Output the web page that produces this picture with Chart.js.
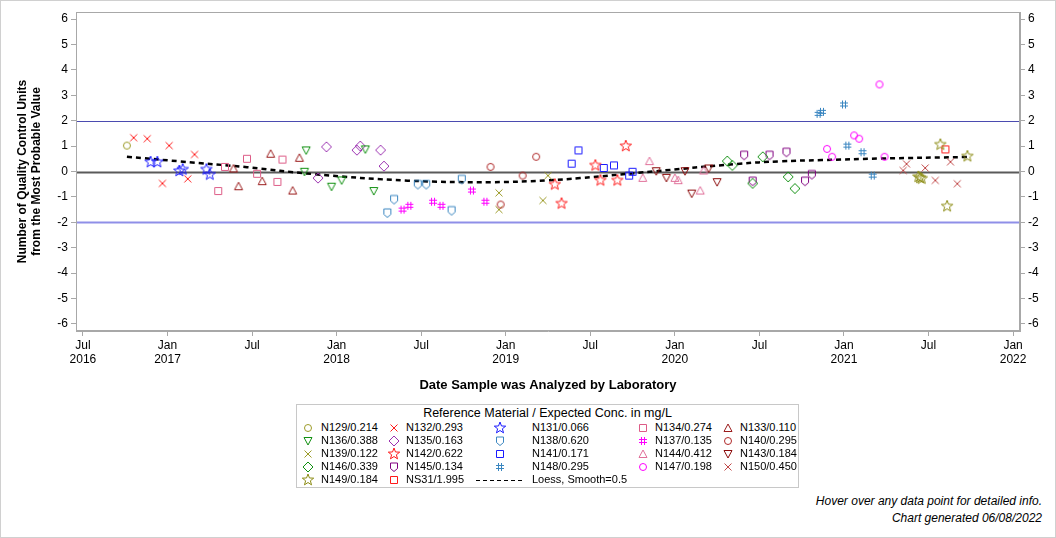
<!DOCTYPE html>
<html>
<head>
<meta charset="utf-8">
<script src="https://cdn.jsdelivr.net/npm/chart.js@4.4.1/dist/chart.umd.min.js"></script>
<style>
  body { margin: 0; background: #fff; font-family: "Liberation Sans", Arial, sans-serif; }
  #frame { position: relative; width: 1054px; height: 536px; border: 1px solid #d0d0d0; overflow: hidden; }
  #chartBox { position: absolute; left: 0; top: 0; }
  #legend { position: absolute; left: 295px; top: 403px; width: 501px; height: 82px; border: 1px solid #c8c8c8; }
  #legend .ttl { position: absolute; left: 0; width: 100%; top: 1px; text-align: center; font-size: 12.5px; }
  #legend .it { position: absolute; font-size: 11px; line-height: 13px; white-space: nowrap; }
  #legend canvas { position: absolute; }
  .foot { position: absolute; right: 13px; font-size: 12px; font-style: italic; }
</style>
</head>
<body>
<div id="frame">
  <canvas id="chartBox" width="1054" height="396"></canvas>
  <div id="legend"><div class="ttl">Reference Material / Expected Conc. in mg/L</div></div>
  <div class="foot" style="top:493px">Hover over any data point for detailed info.</div>
  <div class="foot" style="top:510px">Chart generated 06/08/2022</div>
</div>
<script>
// x values are decimal years, y values are QC units from the most probable value
const n129 = [[2016.76, 1.02]];
const n132 = [[2016.80, 1.33], [2016.88, 1.29], [2016.97, -0.47], [2017.01, 1.02], [2017.12, -0.29], [2017.16, 0.67]];
const n131 = [[2016.90, 0.37], [2016.94, 0.37], [2017.07, 0.02], [2017.09, 0.08], [2017.23, 0.08], [2017.25, -0.12]];
const n134 = [[2017.30, -0.77], [2017.34, 0.18], [2017.47, 0.50], [2017.53, -0.09], [2017.65, -0.41], [2017.68, 0.47]];
const n133 = [[2017.39, 0.12], [2017.42, -0.58], [2017.56, -0.38], [2017.61, 0.70], [2017.74, -0.75], [2017.78, 0.54]];
const n136 = [[2017.81, -0.01], [2017.82, 0.83], [2017.97, -0.60], [2018.03, -0.35], [2018.17, 0.87], [2018.22, -0.77]];
const n135 = [[2017.89, -0.26], [2017.94, 0.97], [2018.12, 0.84], [2018.14, 1.00], [2018.26, 0.84], [2018.28, 0.21]];
const n138 = [[2018.30, -1.63], [2018.34, -1.10], [2018.48, -0.51], [2018.53, -0.51], [2018.68, -1.54], [2018.74, -0.31]];
const n137 = [[2018.39, -1.50], [2018.43, -1.35], [2018.57, -1.19], [2018.62, -1.35], [2018.80, -0.75], [2018.88, -1.19]];
const n140 = [[2018.91, 0.18], [2018.97, -1.30], [2019.10, -0.16], [2019.18, 0.58]];
const n139 = [[2018.96, -1.50], [2018.96, -0.84], [2019.22, -1.14], [2019.25, -0.16]];
const n142 = [[2019.29, -0.51], [2019.33, -1.26], [2019.53, 0.24], [2019.56, -0.35], [2019.66, -0.35], [2019.71, 1.00]];
const n141 = [[2019.39, 0.31], [2019.43, 0.83], [2019.58, 0.14], [2019.64, 0.24], [2019.73, -0.16], [2019.75, -0.01]];
const n144 = [[2019.81, -0.25], [2019.85, 0.41], [2020.00, -0.25], [2020.02, -0.34], [2020.15, -0.75], [2020.17, 0.04]];
const n143 = [[2019.89, 0.01], [2019.95, -0.25], [2020.06, 0.01], [2020.10, -0.87], [2020.20, 0.12], [2020.25, -0.42]];
const n146 = [[2020.31, 0.41], [2020.34, 0.24], [2020.46, -0.47], [2020.52, 0.58], [2020.67, -0.21], [2020.71, -0.67]];
const n145 = [[2020.41, 0.64], [2020.46, -0.38], [2020.56, 0.64], [2020.66, 0.76], [2020.77, -0.38], [2020.81, -0.12]];
const n148 = [[2020.85, 2.27], [2020.87, 2.35], [2021.00, 2.64], [2021.02, 1.02], [2021.11, 0.76], [2021.17, -0.16]];
const n147 = [[2020.90, 0.89], [2020.93, 0.58], [2021.06, 1.42], [2021.09, 1.29], [2021.21, 3.43], [2021.24, 0.58]];
const n150 = [[2021.35, 0.04], [2021.37, 0.30], [2021.48, 0.14], [2021.54, -0.35], [2021.63, 0.38], [2021.67, -0.48]];
const n149 = [[2021.44, -0.21], [2021.45, -0.25], [2021.46, -0.28], [2021.57, 1.06], [2021.61, -1.37], [2021.73, 0.60]];
const ns31 = [[2021.60, 0.87]];
const loess = [[2016.76, 0.58], [2017.07, 0.40], [2017.47, 0.17], [2017.86, -0.10], [2018.42, -0.36], [2018.92, -0.42],
  [2019.24, -0.35], [2019.44, -0.26], [2019.87, 0.0], [2020.37, 0.30], [2020.62, 0.40], [2020.87, 0.45], [2021.21, 0.51], [2021.73, 0.57]];

const xTickValues = [2016.5, 2017, 2017.5, 2018, 2018.5, 2019, 2019.5, 2020, 2020.5, 2021, 2021.5, 2022];
const xTickLabels = [["Jul", "2016"], ["Jan", "2017"], "Jul", ["Jan", "2018"], "Jul", ["Jan", "2019"], "Jul",
  ["Jan", "2020"], "Jul", ["Jan", "2021"], "Jul", ["Jan", "2022"]];
const yTickValues = [-6, -5, -4, -3, -2, -1, 0, 1, 2, 3, 4, 5, 6];
const refLines = [2, 0, -2];
const refStyles = [["#4b4bb0", 1], ["#5a5a5a", 2], ["#8f8fe8", 2]];

// legend order, row by row
const series = [
  { name: "N129/0.214", data: n129, shape: "circle", color: "#9c9b28" },
  { name: "N132/0.293", data: n132, shape: "x", color: "#ff1a1a" },
  { name: "N131/0.066", data: n131, shape: "star", color: "#1a1aff" },
  { name: "N134/0.274", data: n134, shape: "square", color: "#dd5c87" },
  { name: "N133/0.110", data: n133, shape: "triangle", color: "#9b1c1c" },
  { name: "N136/0.388", data: n136, shape: "tridown", color: "#109010" },
  { name: "N135/0.163", data: n135, shape: "diamond", color: "#9b30b0" },
  { name: "N138/0.620", data: n138, shape: "shield", color: "#3a86c0" },
  { name: "N137/0.135", data: n137, shape: "hash", color: "#ff00ff" },
  { name: "N140/0.295", data: n140, shape: "circle", color: "#b02a2a" },
  { name: "N139/0.122", data: n139, shape: "x", color: "#9c9b28" },
  { name: "N142/0.622", data: n142, shape: "star", color: "#ff1a1a" },
  { name: "N141/0.171", data: n141, shape: "square", color: "#1a1aff" },
  { name: "N144/0.412", data: n144, shape: "triangle", color: "#e0709a" },
  { name: "N143/0.184", data: n143, shape: "tridown", color: "#8b0a0a" },
  { name: "N146/0.339", data: n146, shape: "diamond", color: "#109010" },
  { name: "N145/0.134", data: n145, shape: "shield", color: "#800080" },
  { name: "N148/0.295", data: n148, shape: "hash", color: "#3a86c0" },
  { name: "N147/0.198", data: n147, shape: "circle", color: "#ff00ff" },
  { name: "N150/0.450", data: n150, shape: "x", color: "#c04848" },
  { name: "N149/0.184", data: n149, shape: "star", color: "#8c8c14" },
  { name: "NS31/1.995", data: ns31, shape: "square", color: "#ff1a1a" },
];

function makeMarker(shape, color) {
  const c = document.createElement("canvas");
  c.width = 16; c.height = 16;
  const g = c.getContext("2d");
  g.strokeStyle = color;
  g.lineWidth = 1;
  g.translate(8, 8);
  g.beginPath();
  if (shape === "circle") {
    g.arc(0, 0, 3.5, 0, Math.PI * 2);
  } else if (shape === "x") {
    g.moveTo(-3.5, -3.5); g.lineTo(3.5, 3.5);
    g.moveTo(3.5, -3.5); g.lineTo(-3.5, 3.5);
  } else if (shape === "square") {
    g.rect(-3.5, -3.5, 7, 7);
  } else if (shape === "triangle") {
    g.moveTo(0, -4); g.lineTo(4, 3.5); g.lineTo(-4, 3.5); g.closePath();
  } else if (shape === "tridown") {
    g.moveTo(0, 4); g.lineTo(4, -3.5); g.lineTo(-4, -3.5); g.closePath();
  } else if (shape === "diamond") {
    g.moveTo(0, -5); g.lineTo(5, 0); g.lineTo(0, 5); g.lineTo(-5, 0); g.closePath();
  } else if (shape === "shield") {
    g.moveTo(-3.5, -4); g.lineTo(3.5, -4); g.lineTo(3.5, 1.5); g.lineTo(0, 4.5); g.lineTo(-3.5, 1.5); g.closePath();
  } else if (shape === "hash") {
    g.moveTo(-1.5, -4); g.lineTo(-1.5, 4); g.moveTo(1.5, -4); g.lineTo(1.5, 4);
    g.moveTo(-4, -1.5); g.lineTo(4, -1.5); g.moveTo(-4, 1.5); g.lineTo(4, 1.5);
  } else if (shape === "star") {
    for (let i = 0; i < 10; i++) {
      const r = i % 2 ? 2.5 : 6;
      const a = -Math.PI / 2 + i * Math.PI / 5;
      const px = r * Math.cos(a), py = r * Math.sin(a);
      if (i === 0) g.moveTo(px, py); else g.lineTo(px, py);
    }
    g.closePath();
  }
  g.stroke();
  return c;
}

const datasets = series.map(s => ({
  label: s.name,
  data: s.data.map(p => ({ x: p[0], y: p[1] })),
  pointStyle: makeMarker(s.shape, s.color),
  borderColor: s.color,
}));
datasets.push({
  label: "Loess, Smooth=0.5",
  data: loess.map(p => ({ x: p[0], y: p[1] })),
  showLine: true,
  pointRadius: 0,
  borderColor: "#000",
  borderWidth: 2.5,
  borderDash: [5, 4],
  tension: 0.4,
});

const refPlugin = {
  id: "refs",
  beforeDatasetsDraw(chart) {
    const { ctx, chartArea: a, scales } = chart;
    ctx.save();
    refLines.forEach((v, i) => {
      const py = Math.round(scales.y.getPixelForValue(v)) + 0.5;
      ctx.strokeStyle = refStyles[i][0];
      ctx.lineWidth = refStyles[i][1];
      ctx.beginPath();
      ctx.moveTo(a.left, py);
      ctx.lineTo(a.right, py);
      ctx.stroke();
    });
    ctx.strokeStyle = "#a8a8a8";
    ctx.lineWidth = 1;
    ctx.strokeRect(a.left + 0.5, a.top + 0.5, a.width - 1, a.height - 1);
    ctx.restore();
  },
};

const tickFont = { family: "'Liberation Sans', Arial", size: 12 };
const yAxis = (pos, width, title) => ({
  position: pos,
  min: -6.28,
  max: 6.28,
  afterBuildTicks: s => { s.ticks = yTickValues.map(v => ({ value: v })); },
  ticks: { color: "#000", font: tickFont, padding: 3 },
  grid: { drawOnChartArea: false, tickLength: 5, color: "#a8a8a8" },
  border: { color: "#a8a8a8" },
  title: {
    display: !!title,
    text: title,
    color: "#000",
    padding: { top: 14, bottom: 0 },
    font: { family: "'Liberation Sans', Arial", size: 12, weight: "bold" },
  },
  afterFit: s => { s.width = width; },
});

new Chart(document.getElementById("chartBox"), {
  type: "scatter",
  data: { datasets },
  plugins: [refPlugin],
  options: {
    responsive: false,
    animation: false,
    layout: { padding: { top: 11, right: 0, left: 0, bottom: 0 } },
    plugins: { legend: { display: false } },
    scales: {
      x: {
        type: "linear",
        min: 2016.459,
        max: 2022.041,
        afterBuildTicks: s => { s.ticks = xTickValues.map(v => ({ value: v })); },
        ticks: {
          autoSkip: false,
          maxRotation: 0,
          color: "#000",
          font: tickFont,
          padding: 2,
          callback: v => xTickLabels[xTickValues.indexOf(v)],
        },
        grid: { drawOnChartArea: false, tickLength: 5, color: "#a8a8a8" },
        border: { color: "#a8a8a8" },
        title: {
          display: true,
          text: "Date Sample was Analyzed by Laboratory",
          color: "#000",
          font: { family: "'Liberation Sans', Arial", size: 13, weight: "bold" },
        },
        afterFit: s => { s.height = 66; },
      },
      y: yAxis("left", 75, ["Number of Quality Control Units", "from the Most Probable Value"]),
      y2: yAxis("right", 35, ""),
    },
  },
});

// legend: 5 columns, rows follow series order
const legend = document.getElementById("legend");
const markerX = [11, 97, 203, 346, 431];
const textX = [24, 109, 235, 358, 443];
const rowY = [23, 36, 49, 62, 75];
const entries = series.map(s => ({ name: s.name, icon: makeMarker(s.shape, s.color) }));
entries.push({ name: "Loess, Smooth=0.5", loess: true });
entries.forEach((e, i) => {
  const col = i % 5, row = Math.floor(i / 5);
  if (e.loess) {
    const c = document.createElement("canvas");
    c.width = 46; c.height = 6;
    const g = c.getContext("2d");
    g.strokeStyle = "#000"; g.lineWidth = 1.2; g.setLineDash([4, 3]);
    g.beginPath(); g.moveTo(0, 3.5); g.lineTo(46, 3.5); g.stroke();
    c.style.left = (markerX[col] - 24) + "px";
    c.style.top = (rowY[row] - 3) + "px";
    legend.appendChild(c);
  } else {
    e.icon.style.left = (markerX[col] - 8) + "px";
    e.icon.style.top = (rowY[row] - 8) + "px";
    legend.appendChild(e.icon);
  }
  const t = document.createElement("div");
  t.className = "it";
  t.textContent = e.name;
  t.style.left = textX[col] + "px";
  t.style.top = (rowY[row] - 7) + "px";
  legend.appendChild(t);
});
</script>
</body>
</html>
